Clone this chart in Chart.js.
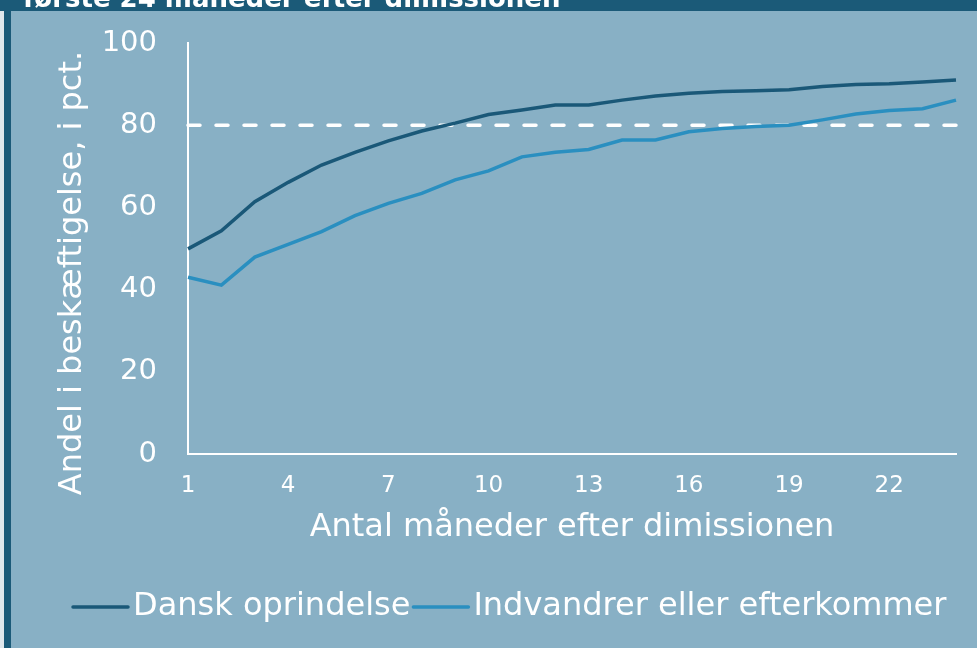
<!DOCTYPE html>
<html><head><meta charset="utf-8">
<script src="https://cdn.jsdelivr.net/npm/chart.js@4.4.0/dist/chart.umd.min.js"></script>
<style>html,body{margin:0;padding:0;background:#88b0c5;overflow:hidden}canvas{display:block}</style>
</head><body>
<canvas id="c" width="977" height="648"></canvas>
<script>
const months = ['1','2','3','4','5','6','7','8','9','10','11','12','13','14','15','16','17','18','19','20','21','22','23','24'];
const danskValues = [49.9,54.3,61.4,66.1,70.3,73.4,76.2,78.6,80.5,82.6,83.7,84.9,84.9,86.1,87.1,87.8,88.2,88.4,88.6,89.4,89.9,90.1,90.5,91.0];
const indvandrerValues = [43.0,41.1,47.9,51.0,54.1,58.0,61.0,63.4,66.7,68.9,72.3,73.4,74.1,76.4,76.4,78.4,79.2,79.7,80.0,81.3,82.7,83.6,84.0,86.1];
const seriesLabels = ['Dansk oprindelse','Indvandrer eller efterkommer'];
const threshold = 80;
const titleText = 'første 24 måneder efter dimissionen';
const yTitle = 'Andel i beskæftigelse, i pct.';
const xTitle = 'Antal måneder efter dimissionen';

const DARK = '#1a5878';
const LIGHT = '#2a8fc0';
const BG = '#88b0c5';
const FONT = '"DejaVu Sans", Verdana, sans-serif';

const decor = {
  id: 'decor',
  beforeDraw(chart) {
    const ctx = chart.ctx;
    ctx.save();
    ctx.fillStyle = BG; ctx.fillRect(0, 0, chart.width, chart.height);
    ctx.fillStyle = '#1b5a78';
    ctx.fillRect(0, 0, chart.width, 11);
    ctx.fillRect(4, 0, 7, chart.height);
    ctx.fillStyle = '#dfe7ec';
    ctx.fillRect(0, 11, 4, chart.height);
    ctx.fillStyle = '#ffffff';
    ctx.font = 'bold 26px ' + FONT;
    ctx.textBaseline = 'alphabetic';
    ctx.textAlign = 'left';
    ctx.fillText(titleText, 23, 7);
    ctx.restore();
  },
  afterDraw(chart) {
    const ctx = chart.ctx;
    ctx.save();
    ctx.translate(73, 273);
    ctx.rotate(-Math.PI / 2);
    ctx.font = '32px ' + FONT;
    ctx.fillStyle = '#ffffff';
    ctx.textAlign = 'center';
    ctx.textBaseline = 'middle';
    ctx.fillText(yTitle, 0, 0);
    ctx.restore();

    ctx.save();
    ctx.font = '32px ' + FONT;
    ctx.textBaseline = 'middle';
    ctx.textAlign = 'left';
    let x = 73;
    const y = 607;
    chart.data.datasets.slice(0, 2).forEach(ds => {
      ctx.strokeStyle = ds.borderColor;
      ctx.lineWidth = 3.5;
      ctx.lineCap = 'round';
      ctx.beginPath(); ctx.moveTo(x, y); ctx.lineTo(x + 55, y); ctx.stroke();
      x += 60;
      ctx.fillStyle = '#ffffff';
      ctx.fillText(ds.label, x, y);
      x += ctx.measureText(ds.label).width + 3;
    });
    ctx.restore();
  }
};

new Chart(document.getElementById('c'), {
  type: 'line',
  data: {
    labels: months,
    datasets: [
      { label: seriesLabels[0], data: danskValues, borderColor: DARK, borderWidth: 3.5, pointRadius: 0, tension: 0, clip: false },
      { label: seriesLabels[1], data: indvandrerValues, borderColor: LIGHT, borderWidth: 3.5, pointRadius: 0, tension: 0, clip: false },
      { label: 'ref', data: months.map(() => threshold), borderColor: '#ffffff', borderWidth: 3.5, borderDash: [12, 16], borderCapStyle: 'round', pointRadius: 0, clip: false, order: 5 }
    ]
  },
  options: {
    responsive: false,
    animation: false,
    events: [],
    layout: { padding: { left: 40, right: 21, top: 43, bottom: 0 } },
    plugins: { legend: { display: false }, tooltip: { enabled: false }, title: { display: false } },
    scales: {
      x: {
        type: 'category',
        offset: false,
        grid: { display: false, drawTicks: false },
        border: { display: true, color: '#ffffff', width: 2 },
        ticks: {
          autoSkip: false, maxRotation: 0, color: '#ffffff', padding: 18,
          font: { family: FONT, size: 23 },
          callback: function (v, i) { return i % 3 === 0 ? months[i] : ''; }
        },
        title: { display: true, text: xTitle, color: '#ffffff', font: { family: FONT, size: 32 }, padding: { top: 0, bottom: 101 } },
        afterFit: s => { s.height = 194; }
      },
      y: {
        min: 0, max: 100,
        grid: { display: false, drawTicks: false },
        border: { display: true, color: '#ffffff', width: 2 },
        ticks: { stepSize: 20, color: '#ffffff', padding: 31, font: { family: FONT, size: 29 } },
        afterFit: s => { s.width = 148; s.paddingTop = 0; s.paddingBottom = 0; }
      }
    }
  },
  plugins: [decor]
});
</script>
</body></html>
